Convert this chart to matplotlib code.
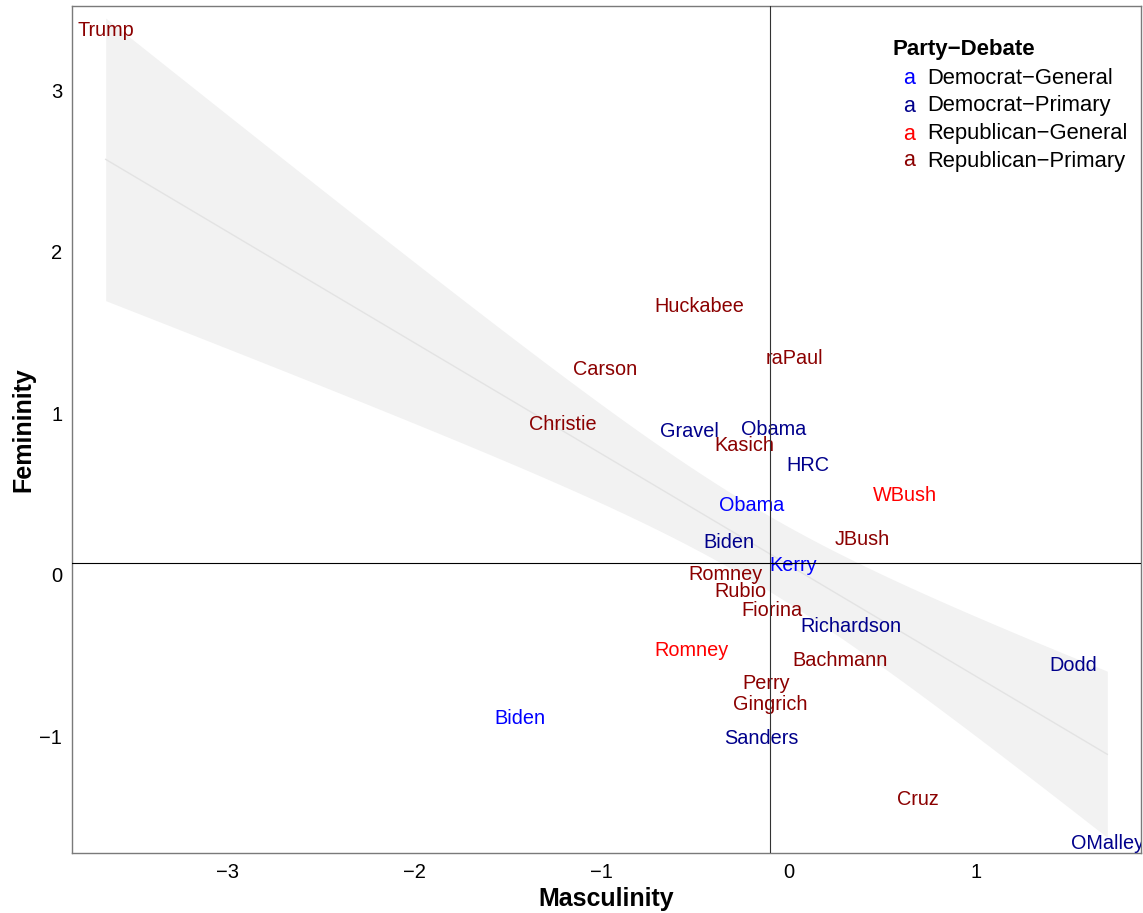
import numpy as np
import matplotlib
matplotlib.use("Agg")
import matplotlib.pyplot as plt

plt.rcParams['font.family'] = ['Liberation Sans', 'DejaVu Sans']

# ---- data ----
names = ["Trump", "Huckabee", "raPaul", "Carson", "Christie", "Gravel", "Obama",
         "Kasich", "HRC", "WBush", "Obama", "JBush", "Biden", "Kerry", "Romney",
         "Rubio", "Fiorina", "Richardson", "Romney", "Bachmann", "Dodd", "Perry",
         "Gingrich", "Biden", "Sanders", "Cruz", "OMalley"]
masculinity = [-3.65, -0.48, 0.03, -0.98, -1.21, -0.53, -0.08,
               -0.24, 0.10, 0.62, -0.20, 0.39, -0.32, 0.02, -0.34,
               -0.26, -0.09, 0.33, -0.52, 0.27, 1.52, -0.12,
               -0.10, -1.44, -0.15, 0.69, 1.70]
femininity = [3.37, 1.66, 1.34, 1.27, 0.93, 0.89, 0.90,
              0.80, 0.68, 0.49, 0.43, 0.22, 0.20, 0.06, 0.006,
              -0.10, -0.22, -0.32, -0.47, -0.53, -0.56, -0.67,
              -0.80, -0.89, -1.01, -1.39, -1.66]
group = ["Republican-Primary", "Republican-Primary", "Republican-Primary", "Republican-Primary",
         "Republican-Primary", "Democrat-Primary", "Democrat-Primary", "Republican-Primary",
         "Democrat-Primary", "Republican-General", "Democrat-General", "Republican-Primary",
         "Democrat-Primary", "Democrat-General", "Republican-Primary", "Republican-Primary",
         "Republican-Primary", "Democrat-Primary", "Republican-General", "Republican-Primary",
         "Democrat-Primary", "Republican-Primary", "Republican-Primary", "Democrat-General",
         "Democrat-Primary", "Republican-Primary", "Democrat-Primary"]
groups = ["Democrat-General", "Democrat-Primary", "Republican-General", "Republican-Primary"]
group_labels = ["Democrat\u2212General", "Democrat\u2212Primary",
                "Republican\u2212General", "Republican\u2212Primary"]
group_colors = ["#0000FF", "#00008B", "#FF0000", "#8B0000"]
vline_x = -0.10
hline_y = 0.074
# linear fit
fit_intercept = 0.06
fit_slope = -0.688
fit_resid_se = 0.585
x_ticks = [-3, -2, -1, 0, 1]
y_ticks = [-1, 0, 1, 2, 3]

color_map = dict(zip(groups, group_colors))

fig = plt.figure(figsize=(11.43, 9.13), dpi=100)
ax = fig.add_axes([72/1143, 60/913, (1141-72)/1143, (853-6)/913])

x = np.array(masculinity)
n = len(x)
xs = np.linspace(x.min(), x.max(), 200)
ys = fit_intercept + fit_slope * xs
sxx = np.sum((x - x.mean())**2)
tval = 2.0595  # t(0.975, 25)
se = fit_resid_se * np.sqrt(1.0/n + (xs - x.mean())**2 / sxx)
ax.fill_between(xs, ys - tval*se, ys + tval*se, color="#F2F2F2", lw=0, zorder=1)
ax.plot(xs, ys, color="#E3E3E3", lw=1.0, zorder=2)

for nm, xi, yi, g in zip(names, masculinity, femininity, group):
    ax.text(xi, yi, nm, color=color_map[g], fontsize=14.3, ha="center", va="center",
            clip_on=True, zorder=3)

ax.axvline(vline_x, color="#333333", lw=0.8, zorder=4)
ax.axhline(hline_y, color="#000000", lw=0.8, zorder=4)

ax.set_xlim(-3.83, 1.88)
ax.set_ylim(-1.72, 3.52)
ax.set_xticks(x_ticks)
ax.set_yticks(y_ticks)
ax.tick_params(length=0, labelsize=14.5, pad=7, colors="black")
for sp in ax.spines.values():
    sp.set_color("#7A7A7A")
    sp.set_linewidth(1.0)

ax.set_xlabel("Masculinity", fontsize=18, fontweight="bold", labelpad=4)
ax.set_ylabel("Femininity", fontsize=18, fontweight="bold", labelpad=3)

# legend drawn manually
def px2ax(px, py):
    return (px - 72) / (1141 - 72), (853 - py) / (853 - 6)

tx, ty = px2ax(893, 49)
ax.text(tx, ty, "Party\u2212Debate", transform=ax.transAxes, fontsize=16,
        fontweight="bold", ha="left", va="center")
rows = [79, 106, 134, 161]
for lab, col, ry in zip(group_labels, group_colors, rows):
    kx, ky = px2ax(909, ry)
    ax.text(kx, ky, "a", transform=ax.transAxes, color=col, fontsize=15.5,
            ha="center", va="center")
    lx, ly = px2ax(927, ry)
    ax.text(lx, ly, lab, transform=ax.transAxes, color="black", fontsize=15.8,
            ha="left", va="center")

fig.savefig("out.png", dpi=100)
